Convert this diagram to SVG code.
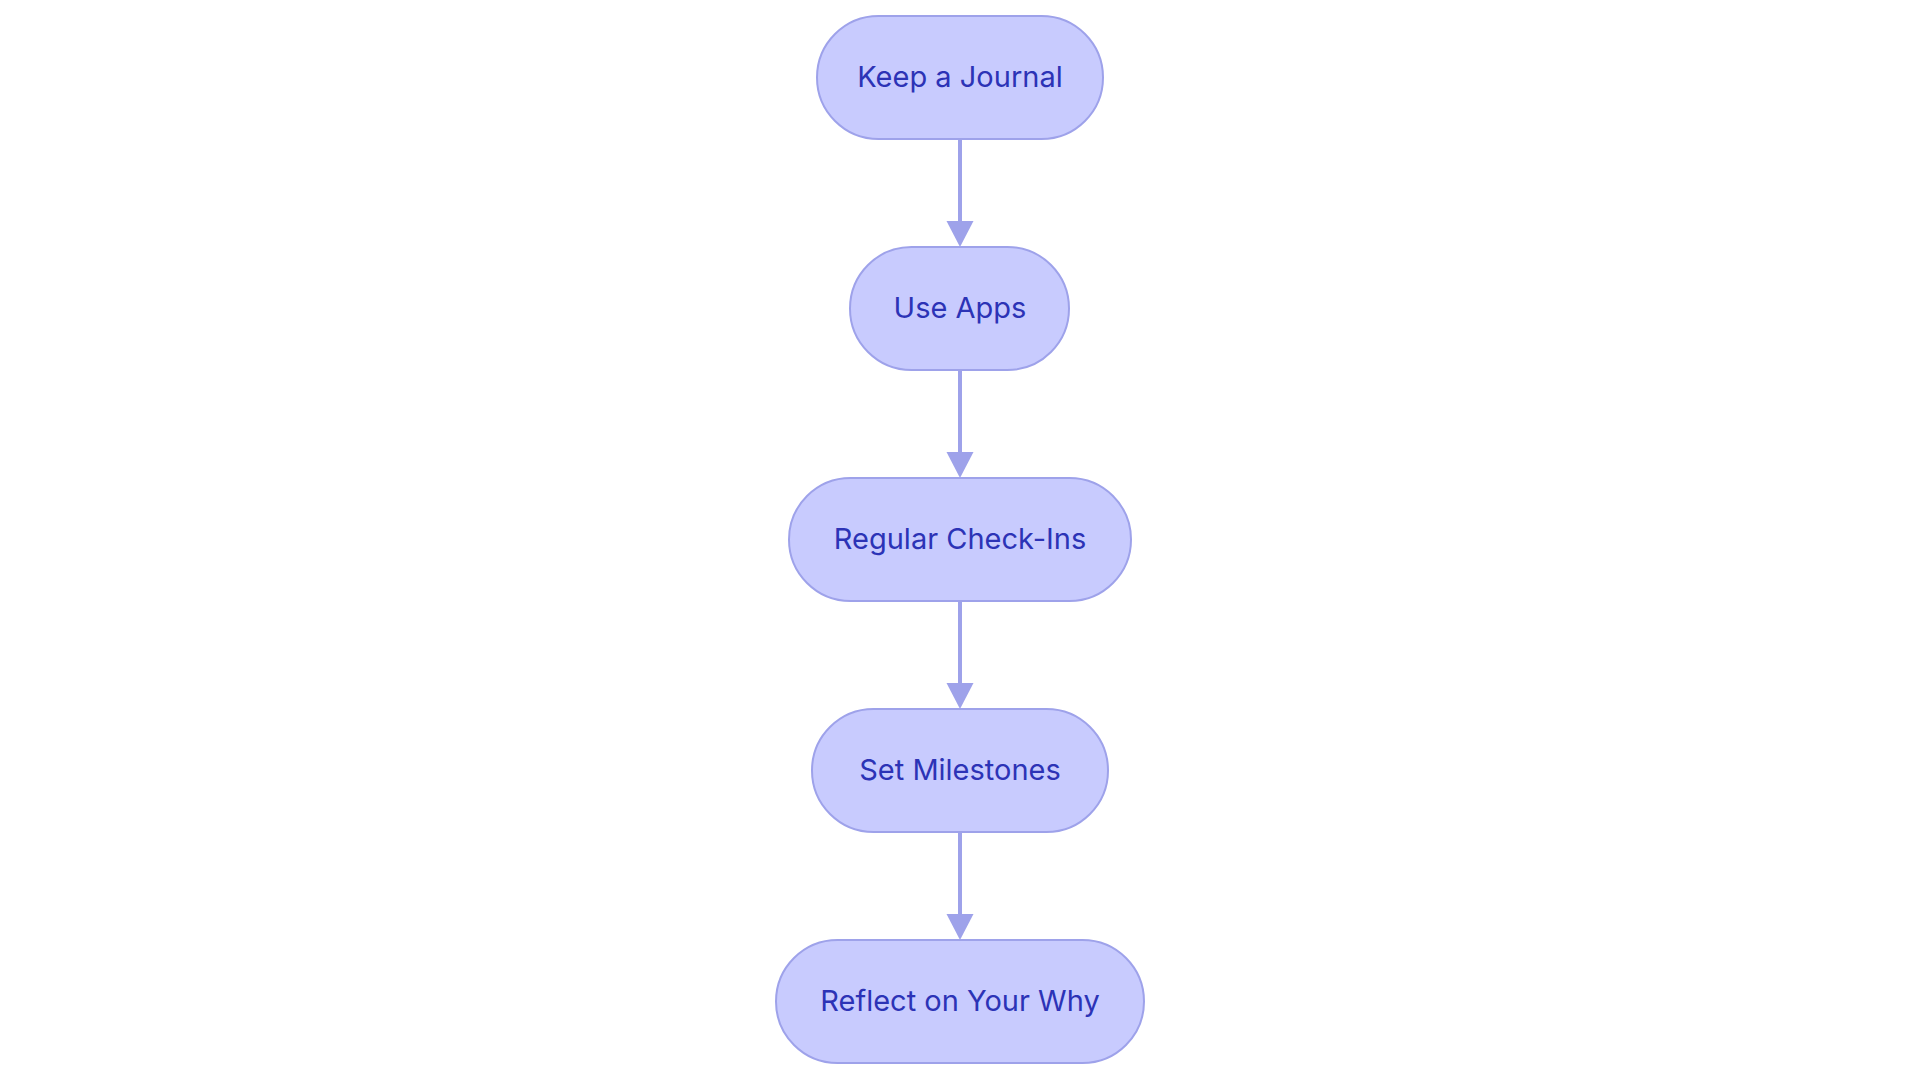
<svg xmlns="http://www.w3.org/2000/svg" width="1920" height="1083" viewBox="0 0 1920 1083">
<defs>
<style>
.node rect{fill:#c8cbfe;stroke:#9ea2ea;stroke-width:2}
.node text{font-family:Inter,"Noto Sans",sans-serif;font-size:29px;font-weight:400;fill:#2c33b6;text-anchor:middle}
.edge{stroke:#9ea2ea;stroke-width:4;fill:none}
.head{fill:#9ea2ea}
</style>
</defs>
<rect width="1920" height="1083" fill="#ffffff"/>
<g id="connectors">
<line class="edge" x1="960" y1="139" x2="960" y2="222"/>
<path class="head" d="M946.5,221 L973.5,221 L960,247 Z"/>
<line class="edge" x1="960" y1="370" x2="960" y2="453"/>
<path class="head" d="M946.5,452 L973.5,452 L960,478 Z"/>
<line class="edge" x1="960" y1="601" x2="960" y2="684"/>
<path class="head" d="M946.5,683 L973.5,683 L960,709 Z"/>
<line class="edge" x1="960" y1="832" x2="960" y2="915"/>
<path class="head" d="M946.5,914 L973.5,914 L960,940 Z"/>
</g>
<g id="node1" class="node">
<rect x="817" y="16" width="286" height="123" rx="61.5" ry="61.5"/>
<text x="960" y="87">Keep a Journal</text>
</g>
<g id="node2" class="node">
<rect x="850" y="247" width="219" height="123" rx="61.5" ry="61.5"/>
<text x="960" y="318">Use Apps</text>
</g>
<g id="node3" class="node">
<rect x="789" y="478" width="342" height="123" rx="61.5" ry="61.5"/>
<text x="960" y="549">Regular Check-Ins</text>
</g>
<g id="node4" class="node">
<rect x="812" y="709" width="296" height="123" rx="61.5" ry="61.5"/>
<text x="960" y="780">Set Milestones</text>
</g>
<g id="node5" class="node">
<rect x="776" y="940" width="368" height="123" rx="61.5" ry="61.5"/>
<text x="960" y="1011">Reflect on Your Why</text>
</g>
</svg>
